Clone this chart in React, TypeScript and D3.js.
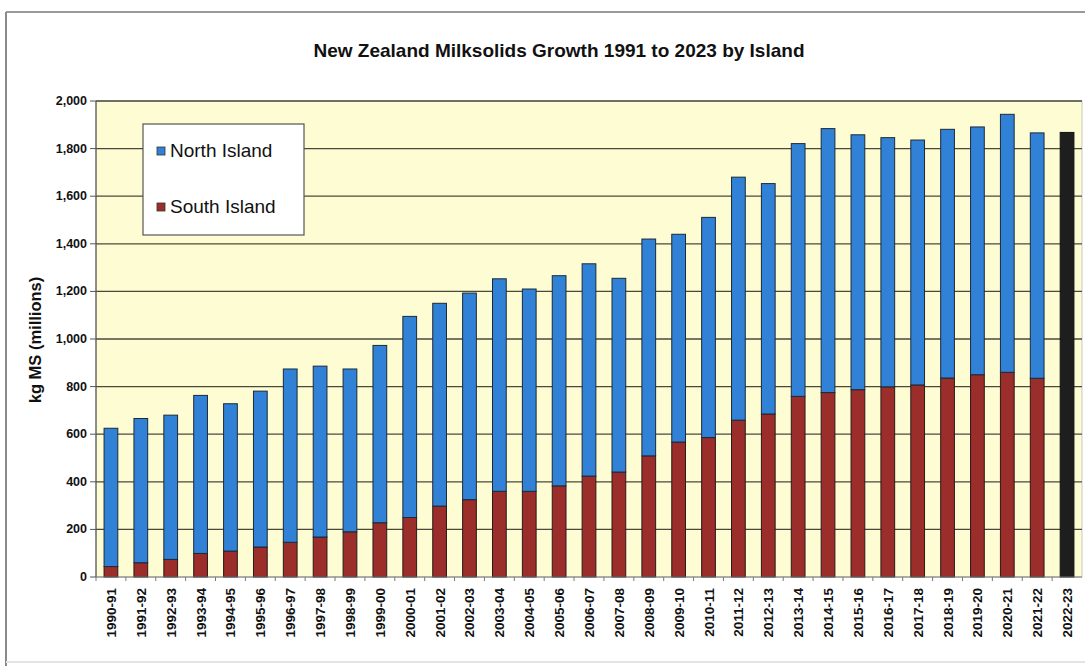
import React, { useEffect, useRef } from "react";
import * as d3 from "d3";

const seasons = [
  "1990-91", "1991-92", "1992-93", "1993-94", "1994-95", "1995-96", "1996-97", "1997-98",
  "1998-99", "1999-00", "2000-01", "2001-02", "2002-03", "2003-04", "2004-05", "2005-06",
  "2006-07", "2007-08", "2008-09", "2009-10", "2010-11", "2011-12", "2012-13", "2013-14",
  "2014-15", "2015-16", "2016-17", "2017-18", "2018-19", "2019-20", "2020-21", "2021-22",
  "2022-23",
];

// South Island (bottom segment), kg MS millions
const southIsland = [
  44, 60, 74, 99, 109, 126, 146, 168, 190, 228, 250, 298, 325, 360, 360, 383,
  424, 441, 509, 567, 586, 659, 685, 759, 775, 787, 799, 807, 836, 850, 860, 835,
  null,
];

// North Island (top segment), kg MS millions
const northIsland = [
  581, 606, 606, 664, 619, 655, 728, 718, 684, 745, 845, 852, 868, 893, 850, 883,
  892, 814, 911, 873, 925, 1021, 968, 1062, 1109, 1071, 1047, 1029, 1045, 1041, 1084, 1031,
  null,
];

// National total only (no island split), kg MS millions
const nationalTotal = [
  null, null, null, null, null, null, null, null, null, null, null, null, null, null, null, null,
  null, null, null, null, null, null, null, null, null, null, null, null, null, null, null, null,
  1868,
];

const yTicks = [0, 200, 400, 600, 800, 1000, 1200, 1400, 1600, 1800, 2000];

const title = "New Zealand Milksolids Growth 1991 to 2023 by Island";
const yTitle = "kg MS (millions)";
const legendLabels = ["North Island", "South Island"];

const W = 1085;
const H = 666;
const plot = { left: 96, right: 1082, top: 101, bottom: 577 };
const COLORS = { north: "#3182d6", south: "#9b2d2a", total: "#1e1e1e", bg: "#fdfcd2" };

export default function App() {
  const ref = useRef<SVGSVGElement | null>(null);

  useEffect(() => {
    const svg = d3.select(ref.current);
    svg.selectAll("*").remove();

    const font = "'Liberation Sans', Arial, sans-serif";

    // outer frame
    svg.append("rect").attr("x", 0).attr("y", 0).attr("width", W).attr("height", H).attr("fill", "#fff");
    svg.append("line").attr("x1", 6).attr("x2", W).attr("y1", 12).attr("y2", 12)
      .attr("stroke", "#9a9a9a").attr("stroke-width", 2);
    svg.append("line").attr("x1", 6).attr("x2", 6).attr("y1", 12).attr("y2", H)
      .attr("stroke", "#8a8a8a").attr("stroke-width", 2);
    svg.append("line").attr("x1", 6).attr("x2", W).attr("y1", 662).attr("y2", 662)
      .attr("stroke", "#e4e4e4").attr("stroke-width", 2);

    const x = d3.scaleBand<string>().domain(seasons).range([plot.left, plot.right]).padding(0);
    const y = d3.scaleLinear().domain([0, 2000]).range([plot.bottom, plot.top]);
    const bw = x.bandwidth() * 0.46;

    // plot background
    svg.append("rect")
      .attr("x", plot.left).attr("y", plot.top)
      .attr("width", plot.right - plot.left).attr("height", plot.bottom - plot.top)
      .attr("fill", COLORS.bg).attr("stroke", "#c8c8c0").attr("stroke-width", 1);

    // gridlines
    svg.append("g").selectAll("line").data(yTicks.filter((t) => t > 0)).join("line")
      .attr("x1", plot.left).attr("x2", plot.right)
      .attr("y1", (d) => y(d)).attr("y2", (d) => y(d))
      .attr("stroke", "#4a4a3c").attr("stroke-width", 1.3);

    // bars
    const g = svg.append("g");
    seasons.forEach((s, i) => {
      const cx = (x(s) as number) + x.bandwidth() / 2;
      const south = southIsland[i];
      const north = northIsland[i];
      const tot = nationalTotal[i];
      if (south != null) {
        g.append("rect").attr("x", cx - bw / 2).attr("width", bw)
          .attr("y", y(south)).attr("height", y(0) - y(south))
          .attr("fill", COLORS.south).attr("stroke", "#2a1a1a").attr("stroke-width", 1);
      }
      if (north != null && south != null) {
        g.append("rect").attr("x", cx - bw / 2).attr("width", bw)
          .attr("y", y(south + north)).attr("height", y(south) - y(south + north))
          .attr("fill", COLORS.north).attr("stroke", "#1c2a3a").attr("stroke-width", 1);
      }
      if (tot != null) {
        g.append("rect").attr("x", cx - bw / 2).attr("width", bw)
          .attr("y", y(tot)).attr("height", y(0) - y(tot))
          .attr("fill", COLORS.total).attr("stroke", "#111").attr("stroke-width", 1);
      }
    });

    // y axis
    svg.append("line").attr("x1", plot.left).attr("x2", plot.left)
      .attr("y1", plot.top).attr("y2", plot.bottom).attr("stroke", "#555").attr("stroke-width", 1.2);
    const ya = svg.append("g");
    ya.selectAll("line").data(yTicks).join("line")
      .attr("x1", plot.left - 6).attr("x2", plot.left)
      .attr("y1", (d) => y(d)).attr("y2", (d) => y(d))
      .attr("stroke", "#555").attr("stroke-width", 1);
    ya.selectAll("text").data(yTicks).join("text")
      .attr("x", plot.left - 9).attr("y", (d) => y(d) + 4)
      .attr("text-anchor", "end")
      .attr("font-family", font).attr("font-weight", "bold").attr("font-size", 12.5)
      .attr("fill", "#111")
      .text((d) => d3.format(",")(d));

    svg.append("text")
      .attr("transform", `translate(41, ${(plot.top + plot.bottom) / 2 + 1}) rotate(-90)`)
      .attr("text-anchor", "middle")
      .attr("font-family", font).attr("font-weight", "bold").attr("font-size", 16.5)
      .attr("fill", "#111").text(yTitle);

    // x axis
    svg.append("line").attr("x1", plot.left).attr("x2", plot.right)
      .attr("y1", plot.bottom).attr("y2", plot.bottom).attr("stroke", "#777").attr("stroke-width", 1.2);
    const xa = svg.append("g");
    xa.selectAll("line").data(seasons).join("line")
      .attr("x1", (d) => x(d) as number).attr("x2", (d) => x(d) as number)
      .attr("y1", plot.bottom).attr("y2", plot.bottom + 4)
      .attr("stroke", "#777").attr("stroke-width", 1);
    xa.selectAll("text").data(seasons).join("text")
      .attr("transform", (d) => `translate(${(x(d) as number) + x.bandwidth() / 2 + 5}, ${plot.bottom + 11}) rotate(-90)`)
      .attr("text-anchor", "end")
      .attr("font-family", font).attr("font-weight", "bold").attr("font-size", 13.5)
      .attr("fill", "#111").text((d) => d);

    // title
    svg.append("text").attr("x", 559).attr("y", 57).attr("text-anchor", "middle")
      .attr("font-family", font).attr("font-weight", "bold").attr("font-size", 19)
      .attr("fill", "#111").text(title);

    // legend
    const lg = svg.append("g");
    lg.append("rect").attr("x", 143).attr("y", 124).attr("width", 161).attr("height", 111)
      .attr("fill", "#fff").attr("stroke", "#555").attr("stroke-width", 1.2);
    const legendColors = [COLORS.north, COLORS.south];
    legendLabels.forEach((lab, i) => {
      const cy = 151 + i * 56;
      lg.append("rect").attr("x", 157).attr("y", cy - 4).attr("width", 8).attr("height", 8)
        .attr("fill", legendColors[i]).attr("stroke", "#333").attr("stroke-width", 0.8);
      lg.append("text").attr("x", 170).attr("y", cy + 6)
        .attr("font-family", font).attr("font-size", 19).attr("fill", "#111").text(lab);
    });
  }, []);

  return (
    <svg
      ref={ref}
      width={W}
      height={H}
      style={{ position: "absolute", left: 0, top: 0, display: "block" }}
    />
  );
}
